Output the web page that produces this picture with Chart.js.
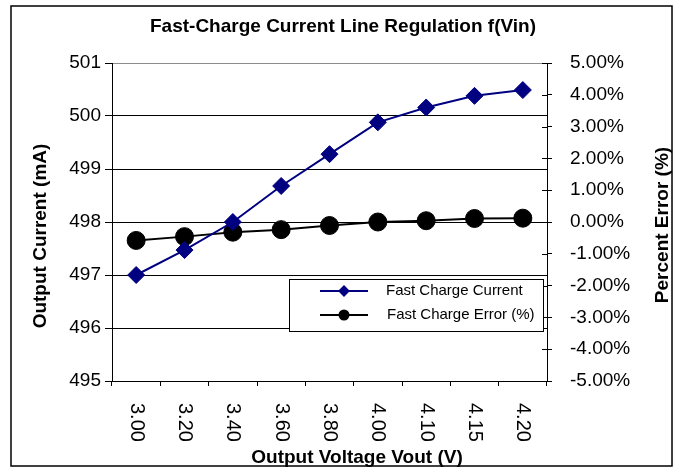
<!DOCTYPE html>
<html><head><meta charset="utf-8">
<script src="https://cdn.jsdelivr.net/npm/chart.js@4/dist/chart.umd.min.js"></script>
<style>html,body{margin:0;padding:0;background:#fff;}#wrap{width:677px;height:468px;}</style>
</head><body><div id="wrap"><canvas id="c" width="677" height="468"></canvas></div>
<script>
const categories = ['3.00','3.20','3.40','3.60','3.80','4.00','4.10','4.15','4.20'];
const currentMA = [497.0, 497.47, 498.0, 498.68, 499.28, 499.88, 500.16, 500.38, 500.49];
const errorPct = [-0.58, -0.46, -0.32, -0.24, -0.11, 0.0, 0.04, 0.11, 0.12];
const currentTicks = [495, 496, 497, 498, 499, 500, 501];
const errorTicks = [-5, -4, -3, -2, -1, 0, 1, 2, 3, 4, 5];
const chartTitle = 'Fast-Charge Current Line Regulation f(Vin)';
const xTitle = 'Output Voltage Vout (V)';
const yTitle = 'Output Current (mA)';
const y1Title = 'Percent Error (%)';
const seriesNames = ['Fast Charge Current', 'Fast Charge Error (%)'];

const FONT = '"Liberation Sans", Arial, sans-serif';

const deco = {
  id: 'deco',
  afterDraw(chart) {
    const ctx = chart.ctx;
    const xs = chart.scales.x, y1 = chart.scales.y1;
    ctx.save();
    // outer frame
    ctx.strokeStyle = '#000'; ctx.lineWidth = 1.5;
    ctx.strokeRect(11, 6, 661, 460);
    // right axis inner ticks
    ctx.lineWidth = 1; ctx.strokeStyle = '#000';
    errorTicks.forEach(v => {
      const py = Math.round(y1.getPixelForValue(v)) + 0.5;
      ctx.beginPath(); ctx.moveTo(y1.left - 5, py); ctx.lineTo(y1.left, py); ctx.stroke();
    });
    // title
    ctx.fillStyle = '#000';
    ctx.font = 'bold 19px ' + FONT;
    ctx.textAlign = 'center'; ctx.textBaseline = 'alphabetic';
    ctx.fillText(chartTitle, 343, 32);
    // x title
    ctx.fillText(xTitle, 357, 463);
    // left title
    ctx.save(); ctx.translate(45.5, 236); ctx.rotate(-Math.PI / 2);
    ctx.fillText(yTitle, 0, 0); ctx.restore();
    // right title
    ctx.save(); ctx.translate(668, 225); ctx.rotate(-Math.PI / 2);
    ctx.fillText(y1Title, 0, 0); ctx.restore();
    // x tick labels rotated clockwise
    ctx.font = '20px ' + FONT;
    ctx.textAlign = 'left'; ctx.textBaseline = 'middle';
    categories.forEach((lab, i) => {
      const px = xs.getPixelForValue(i);
      ctx.save(); ctx.translate(px, 403); ctx.rotate(Math.PI / 2);
      ctx.fillText(lab, 0, 0); ctx.restore();
    });
    // legend
    const lx = 289, ly = 279, lw = 254, lh = 52;
    ctx.fillStyle = '#fff'; ctx.fillRect(lx, ly, lw, lh);
    ctx.strokeStyle = '#000'; ctx.lineWidth = 1;
    ctx.strokeRect(lx + 0.5, ly + 0.5, lw, lh);
    const rows = [291, 315];
    chart.data.datasets.forEach((ds, i) => {
      const ry = rows[i];
      ctx.strokeStyle = ds.borderColor; ctx.lineWidth = 2;
      ctx.beginPath(); ctx.moveTo(320, ry); ctx.lineTo(368, ry); ctx.stroke();
      Chart.helpers.drawPoint(ctx, {pointStyle: ds.pointStyle, radius: 4.5, borderWidth: 1}, 344, ry);
      ctx.fillStyle = ds.backgroundColor;
      ctx.beginPath();
      if (ds.pointStyle === 'rectRot') {
        ctx.moveTo(339.5, ry); ctx.lineTo(344, ry - 4.5); ctx.lineTo(348.5, ry); ctx.lineTo(344, ry + 4.5); ctx.closePath();
      } else {
        ctx.arc(344, ry, 4, 0, Math.PI * 2);
      }
      ctx.fill();
      ctx.fillStyle = '#000';
      ctx.font = '15px ' + FONT; ctx.textAlign = 'left'; ctx.textBaseline = 'middle';
      ctx.fillText(seriesNames[i], i === 0 ? 386 : 387, ry);
    });
    ctx.restore();
  }
};

new Chart(document.getElementById('c'), {
  type: 'line',
  data: {
    labels: categories,
    datasets: [
      { label: seriesNames[0], data: currentMA, yAxisID: 'y',
        borderColor: '#000080', backgroundColor: '#000080', borderWidth: 2,
        pointStyle: 'rectRot', pointRadius: 8.5, pointBorderWidth: 1, pointHoverRadius: 8.5, tension: 0 },
      { label: seriesNames[1], data: errorPct, yAxisID: 'y1',
        borderColor: '#000000', backgroundColor: '#000000', borderWidth: 2,
        pointStyle: 'circle', pointRadius: 9, pointBorderWidth: 1, pointHoverRadius: 9, tension: 0 }
    ]
  },
  options: {
    responsive: false, animation: false, devicePixelRatio: 1,
    layout: { padding: { top: 63, left: 0, right: 0, bottom: 0 } },
    plugins: { legend: { display: false }, title: { display: false }, tooltip: { enabled: false } },
    scales: {
      x: {
        type: 'category', offset: true,
        grid: { offset: true, drawOnChartArea: false, drawTicks: true, tickLength: 5, tickColor: '#000' },
        border: { color: '#000', width: 1 },
        ticks: { display: false },
        afterFit(s) { s.height = 87; }
      },
      y: {
        position: 'left', min: 495, max: 501,
        afterBuildTicks(s) { s.ticks = currentTicks.map(v => ({ value: v })); },
        grid: { color: c => (c.tick && c.tick.value === 501) ? '#8c8c8c' : '#000', lineWidth: 1,
                tickLength: 7, tickColor: '#000' },
        border: { color: '#000', width: 1 },
        ticks: { color: '#000', font: { family: FONT, size: 19 }, padding: 4,
                 callback: v => String(v) },
        afterFit(s) { s.width = 112; }
      },
      y1: {
        position: 'right', min: -5, max: 5,
        afterBuildTicks(s) { s.ticks = errorTicks.map(v => ({ value: v })); },
        grid: { drawOnChartArea: false, tickLength: 5, tickColor: '#000' },
        border: { color: '#000', width: 1 },
        ticks: { color: '#000', font: { family: FONT, size: 19 }, padding: 18,
                 callback: v => Number(v).toFixed(2) + '%' },
        afterFit(s) { s.width = 130; }
      }
    }
  },
  plugins: [deco]
});
</script></body></html>
